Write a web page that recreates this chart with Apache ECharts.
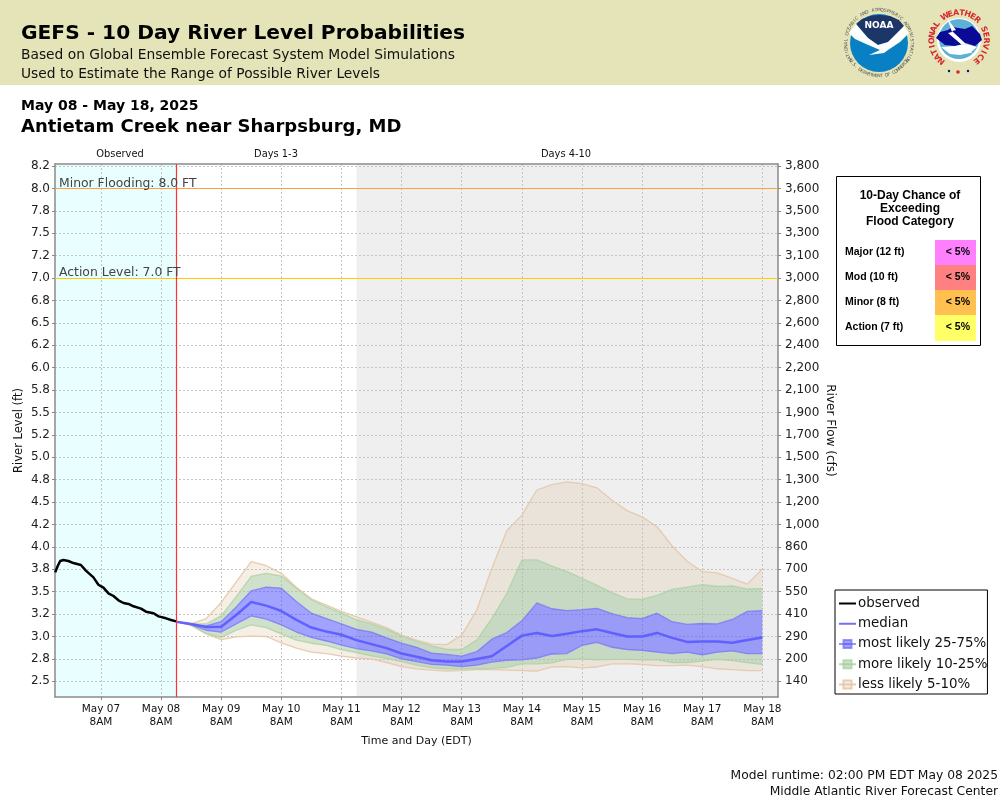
<!DOCTYPE html>
<html>
<head>
<meta charset="utf-8">
<title>GEFS - 10 Day River Level Probabilities</title>
<script src="https://cdn.jsdelivr.net/npm/echarts@6/dist/echarts.min.js"></script>
<style>
html, body { margin: 0; padding: 0; background: #fff; }
#main { width: 1000px; height: 800px; }
</style>
</head>
<body>
<div id="main"></div>
<script>
// axis ticks
var levelTicks = [8.25, 8, 7.75, 7.5, 7.25, 7, 6.75, 6.5, 6.25, 6, 5.75, 5.5, 5.25, 5, 4.75, 4.5, 4.25, 4, 3.75, 3.5, 3.25, 3, 2.75, 2.5];
var levelLabels = ['8.2', '8.0', '7.8', '7.5', '7.2', '7.0', '6.8', '6.5', '6.2', '6.0', '5.8', '5.5', '5.2', '5.0', '4.8', '4.5', '4.2', '4.0', '3.8', '3.5', '3.2', '3.0', '2.8', '2.5'];
var flowLabels = ['3,800', '3,600', '3,500', '3,300', '3,100', '3,000', '2,800', '2,600', '2,400', '2,200', '2,100', '1,900', '1,700', '1,500', '1,300', '1,200', '1,000', '860', '700', '550', '410', '290', '200', '140'];
var dayTicks = ['2025-05-07T08:00', '2025-05-08T08:00', '2025-05-09T08:00', '2025-05-10T08:00', '2025-05-11T08:00', '2025-05-12T08:00', '2025-05-13T08:00', '2025-05-14T08:00', '2025-05-15T08:00', '2025-05-16T08:00', '2025-05-17T08:00', '2025-05-18T08:00'];
var dayLabels = ['May 07\n8AM', 'May 08\n8AM', 'May 09\n8AM', 'May 10\n8AM', 'May 11\n8AM', 'May 12\n8AM', 'May 13\n8AM', 'May 14\n8AM', 'May 15\n8AM', 'May 16\n8AM', 'May 17\n8AM', 'May 18\n8AM'];

// observed stage
var obsTimes = ['2025-05-06T13:45', '2025-05-06T14:45', '2025-05-06T15:45', '2025-05-06T17:00', '2025-05-06T19:00', '2025-05-06T21:00', '2025-05-07T00:00', '2025-05-07T02:00', '2025-05-07T05:00', '2025-05-07T07:00', '2025-05-07T09:00', '2025-05-07T11:00', '2025-05-07T13:00', '2025-05-07T15:00', '2025-05-07T17:00', '2025-05-07T19:00', '2025-05-07T21:00', '2025-05-08T00:00', '2025-05-08T02:00', '2025-05-08T05:00', '2025-05-08T07:00', '2025-05-08T10:00', '2025-05-08T12:00', '2025-05-08T14:00'];
var obsValues = [3.716, 3.787, 3.843, 3.854, 3.843, 3.82, 3.798, 3.735, 3.66, 3.578, 3.545, 3.482, 3.452, 3.404, 3.374, 3.363, 3.337, 3.311, 3.277, 3.259, 3.225, 3.203, 3.184, 3.169];

// forecast, every 6 hours
var fcstTimes = ['2025-05-08T14:00', '2025-05-08T20:00', '2025-05-09T02:00', '2025-05-09T08:00', '2025-05-09T14:00', '2025-05-09T20:00', '2025-05-10T02:00', '2025-05-10T08:00', '2025-05-10T14:00', '2025-05-10T20:00',
    '2025-05-11T02:00', '2025-05-11T08:00', '2025-05-11T14:00', '2025-05-11T20:00', '2025-05-12T02:00', '2025-05-12T08:00', '2025-05-12T14:00', '2025-05-12T20:00', '2025-05-13T02:00', '2025-05-13T08:00',
    '2025-05-13T14:00', '2025-05-13T20:00', '2025-05-14T02:00', '2025-05-14T08:00', '2025-05-14T14:00', '2025-05-14T20:00', '2025-05-15T02:00', '2025-05-15T08:00', '2025-05-15T14:00', '2025-05-15T20:00',
    '2025-05-16T02:00', '2025-05-16T08:00', '2025-05-16T14:00', '2025-05-16T20:00', '2025-05-17T02:00', '2025-05-17T08:00', '2025-05-17T14:00', '2025-05-17T20:00', '2025-05-18T02:00', '2025-05-18T08:00'];
var lessHi = [3.165, 3.14, 3.2, 3.38, 3.61, 3.835, 3.79, 3.705, 3.55, 3.42, 3.35, 3.28, 3.22, 3.16, 3.1, 3.015, 2.96, 2.915, 2.91, 3.015, 3.295, 3.76, 4.18, 4.355, 4.635, 4.695, 4.725, 4.705, 4.66, 4.52, 4.405, 4.335, 4.225, 4.01, 3.84, 3.725, 3.71, 3.65, 3.585, 3.755];
var moreHi = [3.165, 3.14, 3.14, 3.23, 3.445, 3.67, 3.705, 3.675, 3.54, 3.41, 3.33, 3.26, 3.185, 3.14, 3.08, 3.01, 2.945, 2.895, 2.855, 2.855, 2.96, 3.2, 3.48, 3.855, 3.855, 3.785, 3.725, 3.65, 3.57, 3.49, 3.42, 3.415, 3.46, 3.525, 3.55, 3.58, 3.56, 3.565, 3.53, 3.535];
var mostHi = [3.165, 3.14, 3.12, 3.165, 3.33, 3.51, 3.55, 3.54, 3.39, 3.26, 3.2, 3.14, 3.08, 3.05, 2.985, 2.925, 2.88, 2.815, 2.8, 2.78, 2.83, 2.97, 3.045, 3.175, 3.375, 3.31, 3.29, 3.3, 3.315, 3.255, 3.21, 3.2, 3.26, 3.165, 3.135, 3.145, 3.14, 3.19, 3.28, 3.29];
var median = [3.165, 3.14, 3.105, 3.11, 3.24, 3.385, 3.345, 3.285, 3.185, 3.1, 3.055, 3.02, 2.96, 2.915, 2.87, 2.81, 2.775, 2.735, 2.72, 2.72, 2.75, 2.78, 2.895, 3.01, 3.04, 3.005, 3.03, 3.06, 3.08, 3.04, 3, 3, 3.04, 2.985, 2.94, 2.945, 2.945, 2.93, 2.96, 2.99];
var mostLo = [3.165, 3.13, 3.07, 3.05, 3.14, 3.23, 3.195, 3.13, 3.05, 2.99, 2.95, 2.905, 2.865, 2.84, 2.805, 2.75, 2.72, 2.69, 2.68, 2.665, 2.68, 2.715, 2.735, 2.74, 2.76, 2.805, 2.81, 2.9, 2.935, 2.88, 2.855, 2.845, 2.825, 2.81, 2.825, 2.795, 2.825, 2.84, 2.81, 2.81];
var moreLo = [3.165, 3.13, 3.035, 2.99, 3.07, 3.13, 3.1, 3.03, 2.96, 2.925, 2.9, 2.855, 2.82, 2.785, 2.755, 2.72, 2.68, 2.65, 2.64, 2.635, 2.64, 2.645, 2.655, 2.695, 2.695, 2.705, 2.745, 2.75, 2.74, 2.745, 2.745, 2.74, 2.74, 2.71, 2.71, 2.725, 2.745, 2.73, 2.71, 2.69];
var lessLo = [3.165, 3.125, 3.03, 2.965, 2.995, 3.005, 3, 2.93, 2.87, 2.825, 2.81, 2.78, 2.76, 2.75, 2.71, 2.665, 2.64, 2.625, 2.615, 2.62, 2.63, 2.63, 2.625, 2.62, 2.615, 2.66, 2.665, 2.65, 2.66, 2.695, 2.695, 2.69, 2.675, 2.675, 2.68, 2.665, 2.64, 2.63, 2.62, 2.62];

// thresholds and periods
var minorLevel = 8.0;
var actionLevel = 7.0;
var xStart = '2025-05-06T13:40';
var xEnd = '2025-05-18T14:15';
var nowTime = '2025-05-08T14:00';
var days4Start = '2025-05-11T14:00';

// flood chance table
var floodNames = ['Major (12 ft)', 'Mod (10 ft)', 'Minor (8 ft)', 'Action (7 ft)'];
var floodChances = ['< 5%', '< 5%', '< 5%', '< 5%'];
var floodColors = ['#ff80ff', '#ff8080', '#ffc050', '#ffff66'];

var BLUE_LINE = 'rgba(110,110,250,0.7)';
var GREEN_LINE = 'rgba(170,210,160,0.8)';
var TAN_LINE = 'rgba(228,200,170,0.9)';
var BLUE_FILL = 'rgba(70,70,255,0.5)';
var GREEN_FILL = 'rgba(160,195,150,0.5)';
var TAN_FILL = 'rgba(220,190,150,0.25)';
var FRAME = '#8a8a8a';
var GRID_LINE = { show: true, lineStyle: { color: '#c4c4c4', type: [2, 2], width: 1 } };
var FONT = '"DejaVu Sans"';

function toMs(s) {
    return new Date(s).getTime();
}

function pairs(times, values) {
    return times.map(function (t, i) {
        return [toMs(t), values[i]];
    });
}

// thickness of a band on top of the one below
function band(upper, lower) {
    return fcstTimes.map(function (t, i) {
        return [toMs(t), upper[i] - lower[i]];
    });
}

function bandSeries(name, upper, lower, lineColor, fillColor) {
    return {
        name: name,
        type: 'line',
        stack: 'bands',
        z: 3,
        symbol: 'rect',
        showSymbol: false,
        data: band(upper, lower),
        lineStyle: { color: lineColor, width: 1.3 },
        itemStyle: { color: fillColor, borderColor: lineColor, borderWidth: 1 },
        areaStyle: { color: fillColor, opacity: 1 }
    };
}

var graphics = [];

function addText(text, x, y, font, fill, align) {
    graphics.push({
        type: 'text', silent: true, z: 10,
        style: { text: text, x: x, y: y, font: font, fill: fill, textAlign: align || 'left', textVerticalAlign: 'middle' }
    });
}

function addCircle(cx, cy, r, fill) {
    graphics.push({ type: 'circle', silent: true, z: 9, shape: { cx: cx, cy: cy, r: r }, style: { fill: fill } });
}

function addPoly(points, fill) {
    graphics.push({ type: 'polygon', silent: true, z: 9, shape: { points: points }, style: { fill: fill } });
}

// letters around a logo, angles are degrees clockwise from straight up
function arcText(str, cx, cy, r, from, to, font, fill, flip) {
    for (var i = 0; i < str.length; i++) {
        var deg = from + (to - from) * i / (str.length - 1);
        var rad = deg * Math.PI / 180;
        graphics.push({
            type: 'text', silent: true, z: 10,
            x: cx + r * Math.sin(rad),
            y: cy - r * Math.cos(rad),
            rotation: flip ? -(rad - Math.PI) : -rad,
            style: { text: str.charAt(i), font: font, fill: fill, textAlign: 'center', textVerticalAlign: 'middle' }
        });
    }
}

// header
graphics.push({ type: 'rect', silent: true, z: 8, shape: { x: 0, y: 0, width: 1000, height: 85 }, style: { fill: '#e4e4b8' } });
addText('GEFS - 10 Day River Level Probabilities', 21, 34, 'bold 20.2px ' + FONT, '#000');
addText('Based on Global Ensemble Forecast System Model Simulations', 21, 55, '13.8px ' + FONT, '#111');
addText('Used to Estimate the Range of Possible River Levels', 21, 74, '13.8px ' + FONT, '#111');
addText('May 08 - May 18, 2025', 21, 106, 'bold 14px ' + FONT, '#000');
addText('Antietam Creek near Sharpsburg, MD', 21, 127, 'bold 18px ' + FONT, '#000');

// NOAA logo
addCircle(879, 43, 29, '#0a80c4');
addPoly([[856, 24], [862, 19], [872, 15.5], [880, 15], [890, 16], [899, 20], [904, 26], [898, 33], [888, 42], [878, 45], [868, 38]], '#1d3668');
addPoly([[849, 33], [856, 24], [868, 38], [878, 45], [888, 42], [904, 26], [909, 33], [900, 42], [888, 50], [884, 53], [869, 55], [880, 50], [866, 44], [855, 39]], '#ffffff');
addText('NOAA', 879, 26, 'bold 9px ' + FONT, '#fff', 'center');
arcText('NATIONAL OCEANIC AND ATMOSPHERIC ADMINISTRATION', 879, 43, 33, -122, 122, '4.5px ' + FONT, '#555');
arcText('U.S. DEPARTMENT OF COMMERCE', 879, 43, 33, 238, 122, '4.5px ' + FONT, '#555', true);

// NWS logo
addCircle(959, 40, 22, '#ffffff');
addCircle(959, 39, 20, '#5fb0d6');
addPoly([[936, 38], [940, 32], [948, 30], [952, 27], [965, 29], [972, 26], [980, 34], [982, 40], [975, 46], [966, 43], [955, 46], [945, 45]], '#0a0a96');
addPoly([[941, 47], [955, 46], [966, 44], [977, 47], [970, 53], [960, 55], [950, 54]], '#ffffff');
addPoly([[947, 18], [956, 30], [952, 31], [966, 44], [961, 45], [975, 55], [958, 46], [962, 45], [948, 33], [952, 32]], '#ffffff');
arcText('NATIONAL WEATHER SERVICE', 959, 40, 27, -140, 140, 'bold 8px ' + FONT, '#d8262c');
addCircle(949, 71, 1.2, '#0a0a96');
addCircle(958, 72, 1.8, '#d8262c');
addCircle(968, 71, 1.2, '#0a0a96');

// period captions above the plot
addText('Observed', 120, 154, '9.9px ' + FONT, '#111', 'center');
addText('Days 1-3', 276, 154, '9.9px ' + FONT, '#111', 'center');
addText('Days 4-10', 566, 154, '9.9px ' + FONT, '#111', 'center');

// flood category box
graphics.push({ type: 'rect', silent: true, z: 8, shape: { x: 836.5, y: 176.5, width: 144, height: 169 }, style: { fill: '#fff', stroke: '#000', lineWidth: 1 } });
addText('10-Day Chance of', 910, 196, 'bold 12px "Liberation Sans"', '#000', 'center');
addText('Exceeding', 910, 209, 'bold 12px "Liberation Sans"', '#000', 'center');
addText('Flood Category', 910, 222, 'bold 12px "Liberation Sans"', '#000', 'center');
floodNames.forEach(function (name, i) {
    var top = 240 + i * 25;
    graphics.push({ type: 'rect', silent: true, z: 9, shape: { x: 935, y: top, width: 41, height: i === 3 ? 26 : 25 }, style: { fill: floodColors[i] } });
    addText(name, 845, top + 12.5, 'bold 10.5px "Liberation Sans"', '#000');
    addText(floodChances[i], 970, top + 12.5, 'bold 10.5px "Liberation Sans"', '#000', 'right');
});

// footer
addText('Model runtime: 02:00 PM EDT May 08 2025', 998, 776, '12.3px ' + FONT, '#111', 'right');
addText('Middle Atlantic River Forecast Center', 998, 792, '12.3px ' + FONT, '#111', 'right');

var myChart = echarts.init(document.getElementById('main'), null, { renderer: 'canvas' });

myChart.setOption({
    animation: false,
    backgroundColor: '#fff',
    textStyle: { fontFamily: FONT },
    graphic: graphics,
    grid: { left: 55, right: 222, top: 164, bottom: 103, outerBoundsMode: 'none' },
    legend: {
        left: 835, top: 590, orient: 'vertical', align: 'left',
        padding: [7, 0, 3, 3],
        borderColor: '#000', borderWidth: 1, backgroundColor: '#fff',
        itemWidth: 17, itemHeight: 10, itemGap: 7.25,
        textStyle: { fontSize: 13.4, color: '#111', fontFamily: FONT, padding: [0, 0, 0, -3] },
        selectedMode: false,
        data: [
            { name: 'observed', icon: 'path://M0,0H17V2H0Z', itemStyle: { color: '#000' } },
            { name: 'median', icon: 'path://M0,0H17V2H0Z', itemStyle: { color: '#7070ff' } },
            'most likely 25-75%', 'more likely 10-25%', 'less likely 5-10%'
        ]
    },
    xAxis: [{
        // series run on this one, it only draws the top of the frame
        type: 'time',
        position: 'top',
        min: toMs(xStart),
        max: toMs(xEnd),
        z: 2,
        axisLine: { show: true, lineStyle: { color: FRAME, width: 1.5 } },
        axisTick: { show: false },
        axisLabel: { show: false },
        splitLine: { show: false }
    }, {
        // same range as timestamps, so the day ticks can sit at 8AM
        type: 'value',
        position: 'bottom',
        min: toMs(xStart),
        max: toMs(xEnd),
        z: 2,
        name: 'Time and Day (EDT)',
        nameLocation: 'middle',
        nameMoveOverlap: false,
        nameGap: 39,
        nameTextStyle: { fontSize: 11, color: '#111' },
        axisLine: { show: true, lineStyle: { color: FRAME, width: 1.5 } },
        axisTick: { show: true, length: 3, customValues: dayTicks.map(toMs), lineStyle: { color: '#888' } },
        axisLabel: {
            customValues: dayTicks.map(toMs),
            fontSize: 10.5, lineHeight: 13, color: '#111', margin: 6,
            hideOverlap: false,
            formatter: function (value) {
                return dayLabels[dayTicks.map(toMs).indexOf(value)];
            }
        },
        splitLine: GRID_LINE
    }],
    yAxis: [{
        type: 'value',
        min: 2.325,
        max: 8.273,
        z: 2,
        name: 'River Level (ft)',
        nameLocation: 'middle',
        nameMoveOverlap: false,
        nameGap: 30,
        nameTextStyle: { fontSize: 11.5, color: '#111' },
        axisLine: { show: true, lineStyle: { color: FRAME, width: 1.5 } },
        axisTick: { show: true, length: 3, customValues: levelTicks, lineStyle: { color: '#888' } },
        axisLabel: {
            customValues: levelTicks,
            fontSize: 12, color: '#222', margin: 5, padding: [4, 0, 0, 0],
            formatter: function (value) {
                return levelLabels[levelTicks.indexOf(value)];
            }
        },
        splitLine: GRID_LINE
    }, {
        type: 'value',
        position: 'right',
        min: 2.325,
        max: 8.273,
        z: 2,
        name: 'River Flow (cfs)',
        nameLocation: 'middle',
        nameMoveOverlap: false,
        nameRotate: -90,
        nameGap: 46,
        nameTextStyle: { fontSize: 12, color: '#111' },
        axisLine: { show: true, lineStyle: { color: FRAME, width: 1.5 } },
        axisTick: { show: true, length: 3, customValues: levelTicks, lineStyle: { color: '#888' } },
        axisLabel: {
            customValues: levelTicks,
            fontSize: 12, color: '#222', margin: 7, padding: [4, 0, 0, 0],
            formatter: function (value) {
                return flowLabels[levelTicks.indexOf(value)];
            }
        },
        splitLine: { show: false }
    }],
    series: [{
        // background periods
        name: 'periods',
        type: 'line',
        z: 1,
        data: [],
        markArea: {
            silent: true,
            data: [
                [{ xAxis: toMs(xStart), itemStyle: { color: '#e9fefe' } }, { xAxis: toMs(nowTime) }],
                [{ xAxis: toMs(days4Start), itemStyle: { color: '#efefef' } }, { xAxis: toMs(xEnd) }]
            ]
        }
    }, {
        name: 'lower edge',
        type: 'line',
        stack: 'bands',
        z: 3,
        showSymbol: false,
        data: pairs(fcstTimes, lessLo),
        lineStyle: { color: TAN_LINE, width: 1.3 }
    },
    bandSeries('lower less', moreLo, lessLo, GREEN_LINE, TAN_FILL),
    bandSeries('lower more', mostLo, moreLo, BLUE_LINE, GREEN_FILL),
    bandSeries('most likely 25-75%', mostHi, mostLo, BLUE_LINE, BLUE_FILL),
    bandSeries('more likely 10-25%', moreHi, mostHi, GREEN_LINE, GREEN_FILL),
    bandSeries('less likely 5-10%', lessHi, moreHi, TAN_LINE, TAN_FILL),
    {
        name: 'median',
        type: 'line',
        z: 4,
        showSymbol: false,
        symbol: 'none',
        data: pairs(fcstTimes, median),
        itemStyle: { color: '#7070ff' },
        lineStyle: { color: 'rgba(90,90,255,0.9)', width: 2.5 }
    }, {
        name: 'observed',
        type: 'line',
        z: 4,
        showSymbol: false,
        symbol: 'none',
        data: pairs(obsTimes, obsValues),
        itemStyle: { color: '#000' },
        lineStyle: { color: '#000', width: 2.5 }
    }, {
        // flood levels and the forecast start
        name: 'markers',
        type: 'line',
        z: 5,
        data: [],
        markLine: {
            silent: true,
            symbol: 'none',
            animation: false,
            data: [{
                yAxis: minorLevel,
                lineStyle: { color: '#ffa040', type: 'solid', width: 1.2 },
                label: { show: true, formatter: 'Minor Flooding: 8.0 FT', position: 'insideStartTop', fontSize: 12.4, color: '#444', distance: [4, -1], fontFamily: FONT }
            }, {
                yAxis: actionLevel,
                lineStyle: { color: '#ffcc00', type: 'solid', width: 1.2 },
                label: { show: true, formatter: 'Action Level: 7.0 FT', position: 'insideStartTop', fontSize: 12.4, color: '#444', distance: [4, -1], fontFamily: FONT }
            }, {
                xAxis: toMs(nowTime),
                lineStyle: { color: '#ff3333', type: 'solid', width: 1.2 },
                label: { show: false }
            }]
        }
    }]
});
</script>
</body>
</html>
